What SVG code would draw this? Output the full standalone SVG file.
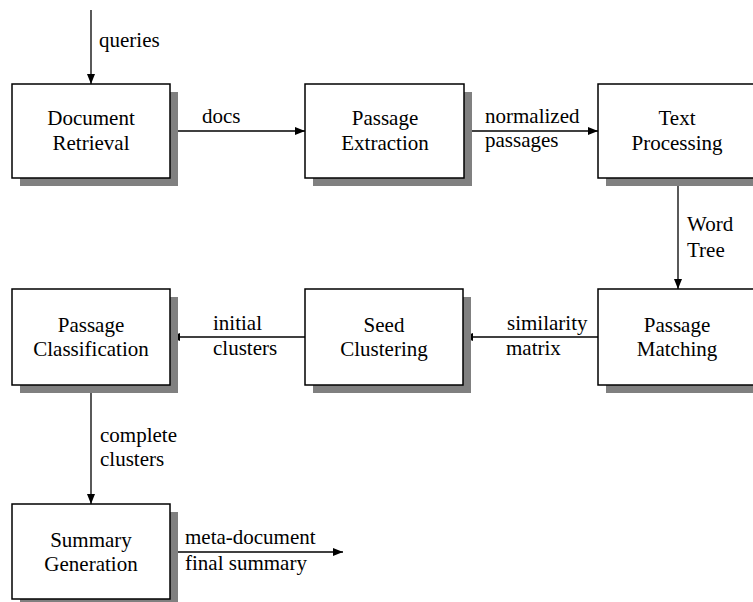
<svg xmlns="http://www.w3.org/2000/svg" width="753" height="602" viewBox="0 0 753 602">
<defs>
<marker id="ah" viewBox="0 0 10 8" refX="10" refY="4" markerWidth="10" markerHeight="8" markerUnits="userSpaceOnUse" orient="auto">
<path d="M0,0 L10,4 L0,8 Z" fill="#000"/>
</marker>
</defs>
<rect width="753" height="602" fill="#fff"/>
<g id="connectors" stroke="#000" stroke-width="1.3" fill="none" marker-end="url(#ah)">
<line x1="91" y1="10" x2="91" y2="84"/>
<line x1="170" y1="131" x2="305" y2="131"/>
<line x1="464" y1="131" x2="598" y2="131"/>
<line x1="678" y1="178" x2="678" y2="289"/>
<line x1="598" y1="337" x2="463" y2="337"/>
<line x1="305" y1="337" x2="170" y2="337"/>
<line x1="91" y1="385" x2="91" y2="504"/>
<line x1="170" y1="552" x2="343" y2="552"/>
</g>
<g id="labels" fill="#000">
<text x="99" y="47" font-family="Liberation Serif" font-size="21">queries</text>
<text x="202" y="123" font-family="Liberation Serif" font-size="21">docs</text>
<text x="485" y="123" font-family="Liberation Serif" font-size="21">normalized</text>
<text x="485" y="147" font-family="Liberation Serif" font-size="21">passages</text>
<text x="687" y="231" font-family="Liberation Serif" font-size="21">Word</text>
<text x="687" y="257" font-family="Liberation Serif" font-size="21">Tree</text>
<text x="507" y="330" font-family="Liberation Serif" font-size="21">similarity</text>
<text x="506" y="355" font-family="Liberation Serif" font-size="21">matrix</text>
<text x="213" y="330" font-family="Liberation Serif" font-size="21">initial</text>
<text x="213" y="355" font-family="Liberation Serif" font-size="21">clusters</text>
<text x="100" y="442" font-family="Liberation Serif" font-size="21">complete</text>
<text x="100" y="466" font-family="Liberation Serif" font-size="21">clusters</text>
<text x="185" y="544" font-family="Liberation Serif" font-size="21">meta-document</text>
<text x="185" y="570" font-family="Liberation Serif" font-size="21">final summary</text>
</g>
<g id="n-document-retrieval">
<rect x="20" y="92" width="158" height="94" fill="#808080"/>
<rect x="12" y="84" width="158" height="94" fill="#fff" stroke="#000" stroke-width="1.5"/>
<text x="91" y="125" font-family="Liberation Serif" font-size="21" text-anchor="middle">Document</text>
<text x="91" y="150" font-family="Liberation Serif" font-size="21" text-anchor="middle">Retrieval</text>
</g>
<g id="n-passage-extraction">
<rect x="313" y="92" width="159" height="94" fill="#808080"/>
<rect x="305" y="84" width="159" height="94" fill="#fff" stroke="#000" stroke-width="1.5"/>
<text x="385" y="125" font-family="Liberation Serif" font-size="21" text-anchor="middle">Passage</text>
<text x="385" y="150" font-family="Liberation Serif" font-size="21" text-anchor="middle">Extraction</text>
</g>
<g id="n-text-processing">
<rect x="606" y="92" width="158" height="94" fill="#808080"/>
<rect x="598" y="84" width="158" height="94" fill="#fff" stroke="#000" stroke-width="1.5"/>
<text x="677" y="125" font-family="Liberation Serif" font-size="21" text-anchor="middle">Text</text>
<text x="677" y="150" font-family="Liberation Serif" font-size="21" text-anchor="middle">Processing</text>
</g>
<g id="n-passage-matching">
<rect x="606" y="297" width="158" height="96" fill="#808080"/>
<rect x="598" y="289" width="158" height="96" fill="#fff" stroke="#000" stroke-width="1.5"/>
<text x="677" y="332" font-family="Liberation Serif" font-size="21" text-anchor="middle">Passage</text>
<text x="677" y="356" font-family="Liberation Serif" font-size="21" text-anchor="middle">Matching</text>
</g>
<g id="n-seed-clustering">
<rect x="313" y="297" width="158" height="96" fill="#808080"/>
<rect x="305" y="289" width="158" height="96" fill="#fff" stroke="#000" stroke-width="1.5"/>
<text x="384" y="332" font-family="Liberation Serif" font-size="21" text-anchor="middle">Seed</text>
<text x="384" y="356" font-family="Liberation Serif" font-size="21" text-anchor="middle">Clustering</text>
</g>
<g id="n-passage-classification">
<rect x="20" y="297" width="158" height="96" fill="#808080"/>
<rect x="12" y="289" width="158" height="96" fill="#fff" stroke="#000" stroke-width="1.5"/>
<text x="91" y="332" font-family="Liberation Serif" font-size="21" text-anchor="middle">Passage</text>
<text x="91" y="356" font-family="Liberation Serif" font-size="21" text-anchor="middle">Classification</text>
</g>
<g id="n-summary-generation">
<rect x="20" y="512" width="158" height="95" fill="#808080"/>
<rect x="12" y="504" width="158" height="95" fill="#fff" stroke="#000" stroke-width="1.5"/>
<text x="91" y="547" font-family="Liberation Serif" font-size="21" text-anchor="middle">Summary</text>
<text x="91" y="571" font-family="Liberation Serif" font-size="21" text-anchor="middle">Generation</text>
</g>
</svg>
